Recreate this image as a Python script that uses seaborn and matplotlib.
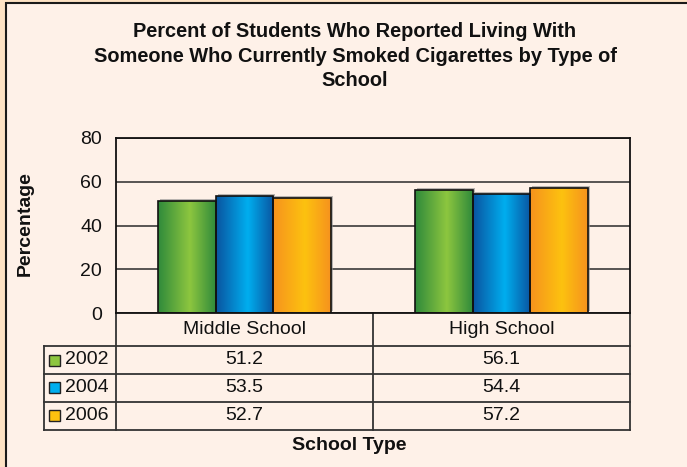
import numpy as np
import pandas as pd
import matplotlib
matplotlib.use("Agg")
import matplotlib.pyplot as plt
import seaborn as sns
from matplotlib.colors import LinearSegmentedColormap
from matplotlib.patches import Rectangle
from matplotlib.lines import Line2D
from matplotlib.transforms import offset_copy

# data
school_types = ['Middle School', 'High School']
years = ['2002', '2004', '2006']
pct_2002 = [51.2, 56.1]
pct_2004 = [53.5, 54.4]
pct_2006 = [52.7, 57.2]
y_ticks = [0, 20, 40, 60, 80]

# (edge, middle) colours for the shaded bars
bar_shades = {
    '2002': ('#2f8a3b', '#8dc63f'),
    '2004': ('#0a54a0', '#00aeef'),
    '2006': ('#f6921e', '#fdc20f'),
}

plt.rcParams['font.family'] = ['Liberation Sans', 'DejaVu Sans']

df = pd.DataFrame({
    'school': school_types * 3,
    'year': [y for y in years for _ in school_types],
    'pct': pct_2002 + pct_2004 + pct_2006,
})

W, H = 687, 467
fig = plt.figure(figsize=(W / 100, H / 100), dpi=100)
fig.patch.set_facecolor('#fde2c4')

# inner panel with border on left/top
panel = Rectangle((6 / W, -0.1), 1.2, 1.1 - 3 / H, transform=fig.transFigure,
                  facecolor='#fef1e8', edgecolor='#1a1a1a', lw=1.5, zorder=0)
fig.add_artist(panel)

ax = fig.add_axes([116 / W, 1 - 313 / H, 514 / W, 175 / H])
ax.set_facecolor('none')

sns.barplot(data=df, x='school', y='pct', hue='year', order=school_types,
            hue_order=years, palette=[bar_shades[y][1] for y in years],
            width=0.671, legend=False, ax=ax)

grad = np.linspace(0, 1, 256).reshape(1, -1)
shadow_tr = offset_copy(ax.transData, fig=fig, x=2, y=2, units='dots')
for year, cont in zip(years, ax.containers):
    edge, mid = bar_shades[year]
    cmap = LinearSegmentedColormap.from_list(year, [(0, edge), (0.55, mid), (1, edge)])
    for p in cont.patches:
        x0, w, h = p.get_x(), p.get_width(), p.get_height()
        ax.add_patch(Rectangle((x0, 0), w, h, transform=shadow_tr,
                               facecolor='#8c8c8c', alpha=0.6, lw=0, zorder=1.5))
        im = ax.imshow(grad, cmap=cmap, extent=[x0, x0 + w, 0, h],
                       aspect='auto', zorder=2, interpolation='bilinear')
        im.set_clip_path(p)
        p.set_facecolor('none')
        p.set_edgecolor('#111111')
        p.set_linewidth(1.2)
        p.set_zorder(3)

ax.set_xlim(-0.5, len(school_types) - 0.5)
ax.set_ylim(0, 80)
ax.set_yticks(y_ticks)
ax.set_xticks([])
ax.set_xlabel('')
ax.set_ylabel('')
ax.set_axisbelow(True)
ax.yaxis.grid(True, color='#2a2a2a', lw=1.1)
ax.tick_params(axis='y', length=0, pad=10, labelsize=14, labelcolor='#111111')
for s in ax.spines.values():
    s.set_color('#111111')
    s.set_linewidth(1.3)

# data table under the plot
tr = ax.transAxes
row_y = [0, -33 / 175, -61 / 175, -89 / 175, -117 / 175]
left_x = (44 - 116) / 514
n = len(school_types)
line_kw = dict(transform=tr, color='#333333', lw=1.3, clip_on=False)
for yy in row_y[1:]:
    ax.add_line(Line2D([left_x, 1], [yy, yy], **line_kw))
for i in range(n + 1):
    ax.add_line(Line2D([i / n, i / n], [0, row_y[-1]], **line_kw))
ax.add_line(Line2D([left_x, left_x], [row_y[1], row_y[-1]], **line_kw))

for i, name in enumerate(school_types):
    ax.text((i + 0.5) / n, (row_y[0] + row_y[1]) / 2, name, transform=tr,
            ha='center', va='center', fontsize=14, color='#111111')

series = [pct_2002, pct_2004, pct_2006]
sq_w = 11 / 514
sq_h = 11 / 175
for r, (year, vals) in enumerate(zip(years, series)):
    yc = (row_y[r + 1] + row_y[r + 2]) / 2
    edge, mid = bar_shades[year]
    ax.add_patch(Rectangle(((49 - 116) / 514, yc - sq_h / 2), sq_w, sq_h,
                           transform=tr, facecolor=mid, edgecolor='#222222',
                           lw=1, clip_on=False))
    ax.text((65 - 116) / 514, yc, year, transform=tr, ha='left', va='center',
            fontsize=14, color='#111111')
    for i, v in enumerate(vals):
        ax.text((i + 0.5) / n, yc, f'{v:.1f}', transform=tr, ha='center',
                va='center', fontsize=14, color='#111111')

fig.text(355 / W, 1 - 22 / H,
         'Percent of Students Who Reported Living With\n'
         'Someone Who Currently Smoked Cigarettes by Type of\nSchool',
         ha='center', va='top', fontsize=14.4, fontweight='bold',
         linespacing=1.38, color='#111111')
fig.text(25 / W, 1 - 224 / H, 'Percentage', rotation=90, ha='center',
         va='center', fontsize=14, fontweight='bold', color='#111111')
fig.text(349 / W, 1 - 445 / H, 'School Type', ha='center', va='center',
         fontsize=14, fontweight='bold', color='#111111')

fig.savefig('out.png', dpi=100, facecolor=fig.get_facecolor())
